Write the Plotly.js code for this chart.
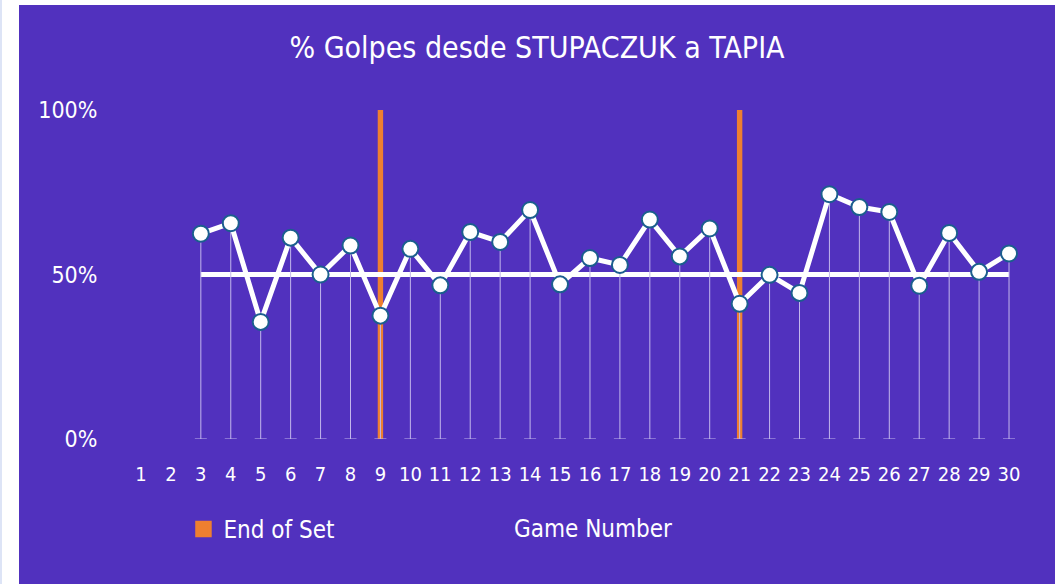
<!DOCTYPE html>
<html>
<head>
<meta charset="utf-8">
<script src="https://cdn.plot.ly/plotly-3.0.1.min.js"></script>
<style>
  html, body { margin: 0; padding: 0; background: #ffffff; width: 1063px; height: 584px; overflow: hidden; }
  #edge { position: absolute; left: 0; top: 0; width: 2px; height: 584px; background: #dde4f6; }
  #chart { position: absolute; left: 19px; top: 5px; width: 1036px; height: 579px; }
</style>
</head>
<body>
<div id="edge"></div>
<div id="chart"></div>
<script>
// ---- data ----
const gameNumbers = [1,2,3,4,5,6,7,8,9,10,11,12,13,14,15,16,17,18,19,20,21,22,23,24,25,26,27,28,29,30];
const playedGames = [3,4,5,6,7,8,9,10,11,12,13,14,15,16,17,18,19,20,21,22,23,24,25,26,27,28,29,30];
const pctShots = [62.4,65.6,35.6,61.2,50.0,58.8,37.5,57.8,46.7,62.9,59.9,69.6,47.0,55.0,52.9,66.7,55.5,64.0,41.1,49.9,44.4,74.4,70.5,69.0,46.6,62.6,50.8,56.4];
const endOfSetGames = [9, 21];
const endOfSetHeight = [100, 100];
const referencePct = 50;
const yTickVals = [0, 50, 100];
const yTickText = ['0%', '50%', '100%'];

const FONT = "DejaVu Sans Condensed, Liberation Sans Narrow, sans-serif";
const PURPLE = '#5131BE';
const ORANGE = '#EE7F30';

const refX = [playedGames[0], playedGames[playedGames.length - 1]];
const refY = refX.map(() => referencePct);

const traces = [
  {
    type: 'bar',
    name: 'End of Set',
    x: endOfSetGames,
    y: endOfSetHeight,
    width: 0.03,
    marker: { color: ORANGE, line: { color: ORANGE, width: 4.5 } },
    showlegend: true,
    hoverinfo: 'skip'
  },
  {
    type: 'scatter',
    mode: 'lines',
    x: refX,
    y: refY,
    line: { color: '#ffffff', width: 5 },
    showlegend: false,
    hoverinfo: 'skip'
  },
  {
    type: 'scatter',
    mode: 'lines+markers',
    name: '% Golpes',
    x: playedGames,
    y: pctShots,
    line: { color: '#ffffff', width: 5 },
    marker: { color: '#ffffff', size: 16, line: { color: '#1B5E8E', width: 2 } },
    error_y: {
      type: 'data',
      symmetric: false,
      array: playedGames.map(() => 0),
      arrayminus: pctShots,
      color: '#C3B7EC',
      thickness: 1,
      width: 6
    },
    showlegend: false,
    hoverinfo: 'skip'
  }
];

const layout = {
  width: 1036,
  height: 579,
  paper_bgcolor: PURPLE,
  plot_bgcolor: PURPLE,
  margin: { l: 107, r: 31, t: 105, b: 144.5, pad: 0 },
  font: { family: FONT, color: '#ffffff', size: 20 },
  title: {
    text: '% Golpes desde STUPACZUK a TAPIA',
    font: { family: FONT, size: 30, color: '#ffffff' },
    x: 0.5, xref: 'container', xanchor: 'center',
    y: 0.926, yref: 'container', yanchor: 'middle'
  },
  xaxis: {
    range: [0.5, 30.5],
    tickvals: gameNumbers,
    ticktext: gameNumbers.map(String),
    tickangle: 0,
    tickfont: { family: FONT, size: 20, color: '#ffffff' },
    ticks: 'outside', ticklen: 17, tickcolor: 'rgba(0,0,0,0)',
    showgrid: false, zeroline: false, showline: false,
    fixedrange: true
  },
  yaxis: {
    range: [0, 100],
    tickvals: yTickVals,
    ticktext: yTickText,
    tickfont: { family: FONT, size: 23, color: '#ffffff' },
    ticks: 'outside', ticklen: 23, tickcolor: 'rgba(0,0,0,0)',
    showgrid: false, zeroline: false, showline: false,
    fixedrange: true
  },
  barmode: 'overlay',
  showlegend: true,
  legend: {
    orientation: 'h',
    x: 0.064, xanchor: 'left',
    y: -0.275, yanchor: 'middle',
    font: { family: FONT, size: 24, color: '#ffffff' },
    bgcolor: 'rgba(0,0,0,0)'
  },
  annotations: [
    {
      text: 'Game Number',
      xref: 'paper', yref: 'paper',
      x: 0.52, y: -0.275,
      xanchor: 'center', yanchor: 'middle',
      showarrow: false,
      font: { family: FONT, size: 24, color: '#ffffff' }
    }
  ]
};

Plotly.newPlot('chart', traces, layout, { staticPlot: true, displayModeBar: false });
</script>
</body>
</html>
